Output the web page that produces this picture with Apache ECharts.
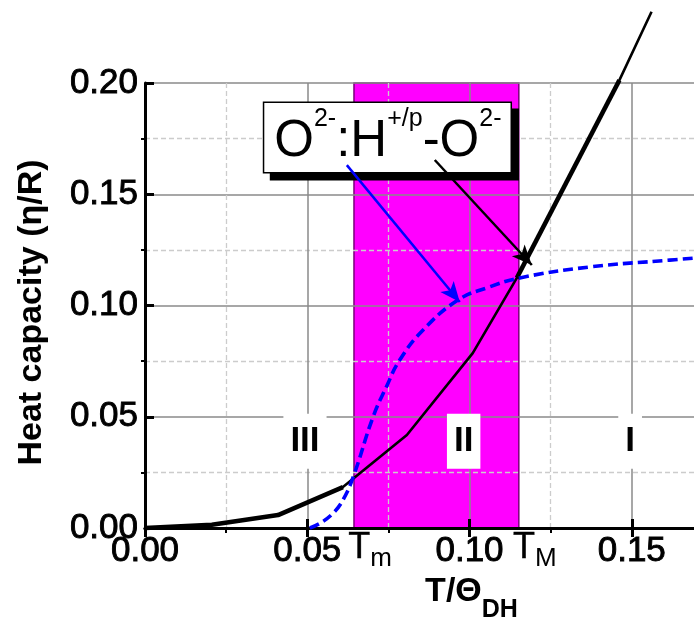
<!DOCTYPE html>
<html>
<head>
<meta charset="utf-8">
<script src="https://cdn.jsdelivr.net/npm/echarts@6/dist/echarts.min.js"></script>
<style>
html,body{margin:0;padding:0;background:#fff;}
#c{width:694px;height:626px;}
</style>
</head>
<body>
<div id="c"></div>
<script>
// ---- data ----
const xMajorTicks = [0, 0.05, 0.10, 0.15];
const xMinorTicks = [0.025, 0.075, 0.125];
const yMinorTicks = [0.025, 0.075, 0.125, 0.175];
const bandRange = [0.0644, 0.1152];          // T_m, T_M
const bandLabels = ['m', 'M'];
const blackX = [0, 0.0206, 0.041, 0.061, 0.0807, 0.101, 0.1146, 0.1462, 0.1561];
const blackY = [0, 0.0015, 0.0058, 0.0184, 0.0418, 0.0786, 0.1124, 0.2013, 0.232];
const thickRanges = [[0, 3], [6, 7]];
const blueX = [0.0508, 0.054, 0.058, 0.061, 0.0642, 0.0703, 0.0744, 0.0785, 0.0857, 0.0965, 0.1055, 0.1155, 0.137, 0.1617, 0.169];
const blueY = [0, 0.0022, 0.0067, 0.0126, 0.0231, 0.050, 0.0635, 0.0755, 0.089, 0.1025, 0.1080, 0.1124, 0.1173, 0.1204, 0.1213];
const blueArrow = [[0.0622, 0.1631], [0.0970, 0.1016]];
const blackArrow = [[0.0893, 0.1654], [0.1192, 0.1182]];
const regionNames = ['III', 'II', 'I'];
const regionX = [0.0493, 0.0982, 0.1495];
const regionY = [0.039, 0.039, 0.039];
const boxCenter = [0.0747, 0.1755];

const FONT = 'Liberation Sans, Arial, sans-serif';
const pairs = (xs, ys) => xs.map((x, i) => [x, ys[i]]);
const blackData = pairs(blackX, blackY);
const thickSeries = thickRanges.map(r => ({
  type: 'line', data: blackData.slice(r[0], r[1] + 1), symbol: 'none', clip: false, z: 3,
  lineStyle: {color: '#000', width: 4.5}, silent: true
}));

const tickLabelStyle = {
  fontSize: 35, fontFamily: FONT, color: '#000', textBorderColor: '#000', textBorderWidth: 0.9
};

const chart = echarts.init(document.getElementById('c'), null, {renderer: 'canvas'});
chart.setOption({
  animation: false,
  backgroundColor: '#fff',
  grid: {left: 145, top: 83, right: -100, bottom: 98, outerBoundsMode: 'none', containLabel: false},
  xAxis: [
    {
      type: 'value', min: 0, max: 0.2, interval: 0.05, position: 'bottom', z: 2,
      axisLine: {show: true, lineStyle: {color: '#000', width: 3}},
      axisTick: {show: true, inside: true, length: 9, lineStyle: {color: '#000', width: 3}},
      axisLabel: Object.assign({margin: 6, showMaxLabel: false, formatter: v => v.toFixed(2)}, tickLabelStyle),
      splitLine: {show: true, lineStyle: {color: '#8a8a8a', width: 1.5}},
      minorTick: {show: false, splitNumber: 2},
      minorSplitLine: {show: true, lineStyle: {color: '#cccccc', width: 1.3, type: [5, 3]}},
      name: '{a|T/Θ}{b|DH}', nameLocation: 'middle', nameGap: 42,
      nameTextStyle: {
        padding: [0, 0, 0, 4],
        rich: {
          a: {fontSize: 34, fontWeight: 'bold', fontFamily: FONT, color: '#000', lineHeight: 34, verticalAlign: 'top'},
          b: {fontSize: 25, fontWeight: 'bold', fontFamily: FONT, color: '#000', lineHeight: 48, verticalAlign: 'bottom'}
        }
      }
    },
    {
      type: 'value', min: 0, max: 0.2, interval: 0.05, position: 'top', z: 2,
      axisLine: {show: true, lineStyle: {color: '#000', width: 3}},
      axisTick: {show: true, inside: true, length: 9, lineStyle: {color: '#000', width: 3}},
      minorTick: {show: true, splitNumber: 2, length: 5, lineStyle: {color: '#000', width: 2}},
      axisLabel: {show: false}, splitLine: {show: false}
    },
    {
      type: 'value', min: 0, max: 0.2, position: 'bottom', z: 2,
      axisLine: {show: false},
      axisTick: {show: true, inside: false, length: 5, customValues: xMinorTicks, lineStyle: {color: '#000', width: 2}},
      axisLabel: {
        show: true, customValues: bandRange, margin: 2, align: 'center', verticalAlign: 'top',
        padding: [0, 0, 0, 32],
        formatter: v => '{t|T}{s|' + bandLabels[bandRange.indexOf(v)] + '}',
        rich: {
          t: {fontSize: 36, fontFamily: FONT, color: '#000', lineHeight: 36, verticalAlign: 'top', textBorderColor: '#000', textBorderWidth: 0.4},
          s: {fontSize: 26, fontFamily: FONT, color: '#000', lineHeight: 42, verticalAlign: 'bottom'}
        }
      },
      splitLine: {show: false}
    }
  ],
  yAxis: [
    {
      type: 'value', min: 0, max: 0.2, interval: 0.05, position: 'left', z: 2,
      axisLine: {show: true, lineStyle: {color: '#000', width: 3}},
      axisTick: {show: true, inside: true, length: 9, lineStyle: {color: '#000', width: 3}},
      axisLabel: Object.assign({margin: 7, formatter: v => v.toFixed(2)}, tickLabelStyle),
      splitLine: {show: true, lineStyle: {color: '#8a8a8a', width: 1.5}},
      minorTick: {show: false, splitNumber: 2},
      minorSplitLine: {show: true, lineStyle: {color: '#cccccc', width: 1.3, type: [5, 3]}},
      name: 'Heat capacity (η/R)', nameLocation: 'middle', nameGap: 96,
      nameTextStyle: {fontSize: 34, fontWeight: 'bold', fontFamily: FONT, color: '#000', padding: [0, 14, 0, 0]}
    },
    {
      type: 'value', min: 0, max: 0.2, position: 'left', z: 2,
      axisLine: {show: false},
      axisTick: {show: true, inside: false, length: 4, customValues: yMinorTicks, lineStyle: {color: '#000', width: 2}},
      axisLabel: {show: false}, splitLine: {show: false}
    }
  ],
  series: [
    {
      type: 'line', data: [], z: 1, silent: true,
      markArea: {
        silent: true, z: 1,
        itemStyle: {color: '#ff00ff', borderColor: '#7a007a', borderWidth: 1.5},
        data: [[{xAxis: bandRange[0], yAxis: 0}, {xAxis: bandRange[1], yAxis: 0.2}]]
      }
    },
    {
      type: 'line', data: blackData, symbol: 'none', clip: false, z: 3, silent: true,
      lineStyle: {color: '#000', width: 2.6}
    },
    ...thickSeries,
    {
      type: 'line', data: pairs(blueX, blueY), symbol: 'none', clip: false, z: 3, silent: true,
      smooth: 0.45,
      lineStyle: {color: '#0000ff', width: 3.6, type: [10, 5]}
    },
    {
      type: 'line', data: [], z: 4, silent: true, clip: false,
      markPoint: {
        silent: true, symbol: 'rect', symbolSize: 0, z: 5,
        data: [{coord: boxCenter, value: 0}],
        label: {
          show: true, position: 'inside',
          formatter: '{o|O}{s|2-}{o|:H}{s|+/p}{o|-O}{s|2-}',
          backgroundColor: '#fff', borderColor: '#000', borderWidth: 1.5,
          padding: [4, 9, 5, 10],
          shadowColor: '#000', shadowOffsetX: 7, shadowOffsetY: 7, shadowBlur: 0,
          rich: {
            o: {fontSize: 51, fontFamily: FONT, color: '#000', lineHeight: 60, verticalAlign: 'bottom'},
            s: {fontSize: 25, fontFamily: FONT, color: '#000', lineHeight: 30, verticalAlign: 'top'}
          }
        }
      }
    },
    {
      type: 'line', data: [], z: 4, silent: true, clip: false,
      markPoint: {
        silent: true, symbol: 'rect', symbolSize: 0, z: 5,
        data: regionNames.map((n, i) => ({name: n, coord: [regionX[i], regionY[i]]})),
        label: {
          show: true, position: 'inside', formatter: '{b}',
          fontSize: 35, fontWeight: 'bold', fontFamily: FONT, color: '#000',
          backgroundColor: '#fff', padding: [10, 7]
        }
      }
    },
    {
      type: 'line', data: [], z: 5, silent: true, clip: false,
      markLine: {
        silent: true, z: 7, symbol: ['none', 'arrow'], symbolSize: [13, 20], precision: 6,
        label: {show: false},
        data: [
          [{coord: blueArrow[0], lineStyle: {color: '#0000ff', width: 2.5, type: 'solid'}}, {coord: blueArrow[1]}],
          [{coord: blackArrow[0], lineStyle: {color: '#000', width: 2.5, type: 'solid'}}, {coord: blackArrow[1]}]
        ]
      }
    }
  ]
});
</script>
</body>
</html>
